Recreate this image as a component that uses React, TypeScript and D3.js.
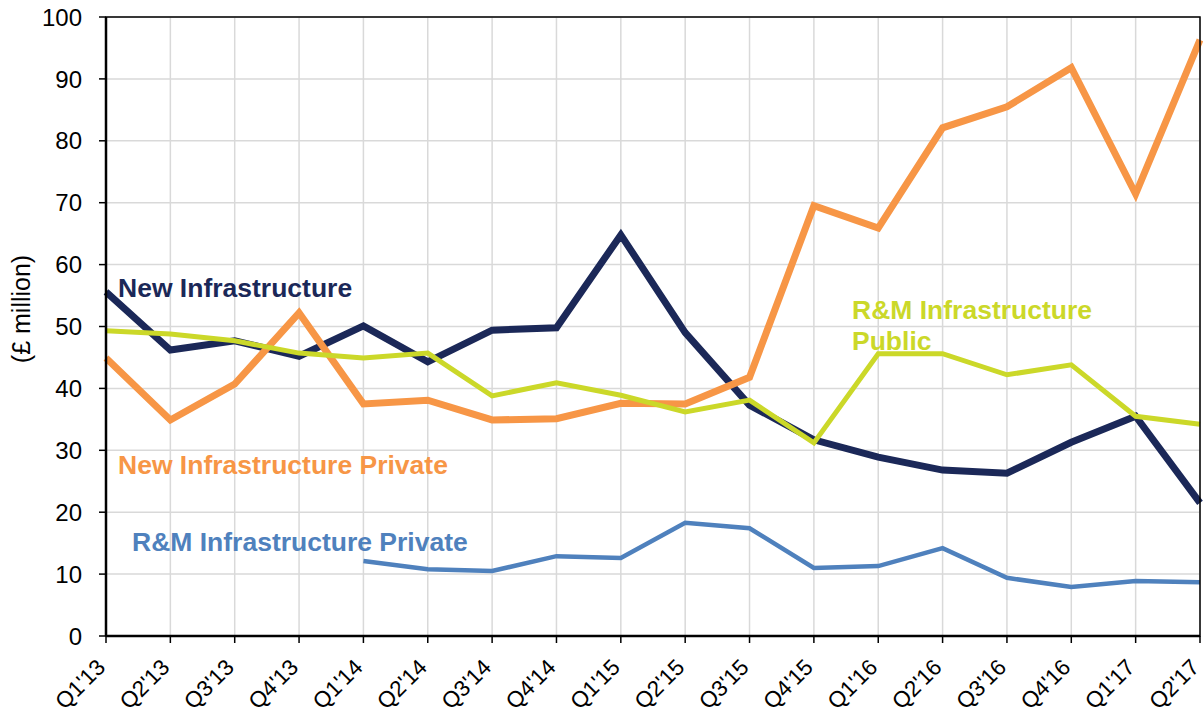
import React from "react";
import * as d3 from "d3";

const categories = ["Q1'13","Q2'13","Q3'13","Q4'13","Q1'14","Q2'14","Q3'14","Q4'14","Q1'15","Q2'15","Q3'15","Q4'15","Q1'16","Q2'16","Q3'16","Q4'16","Q1'17","Q2'17"];
const newInfra = [55.6,46.2,47.7,45.2,50.1,44.3,49.4,49.8,64.8,49.0,37.3,31.7,28.9,26.8,26.3,31.3,35.5,21.5];
const newInfraPrivate = [44.9,34.9,40.7,52.2,37.5,38.1,34.9,35.1,37.6,37.5,41.8,69.5,65.9,82.1,85.5,91.8,71.4,96.3];
const rmPublic = [49.3,48.8,47.7,45.7,44.9,45.7,38.8,40.9,38.9,36.2,38.1,31.2,45.6,45.6,42.2,43.8,35.5,34.2];
const rmPrivate: (number | null)[] = [null,null,null,null,12.1,10.8,10.5,12.9,12.6,18.3,17.4,11.0,11.3,14.2,9.4,7.9,8.9,8.7];
const yTicks = [0,10,20,30,40,50,60,70,80,90,100];

const L = 106, R = 1200, T = 17, B = 636;

export default function App() {
  const x = d3.scalePoint<string>().domain(categories).range([L, R]);
  const y = d3.scaleLinear().domain([0, 100]).range([B, T]);
  const line = d3.line<number | null>()
    .defined((d) => d !== null)
    .x((_, i) => x(categories[i]) as number)
    .y((d) => y(d as number));
  const series = [
    { data: newInfra, color: "#1b2858", w: 7 },
    { data: newInfraPrivate, color: "#f79646", w: 7 },
    { data: rmPublic, color: "#cbd829", w: 5 },
    { data: rmPrivate, color: "#4f81bd", w: 4.5 },
  ];
  const font = "Liberation Sans, Arial, sans-serif";
  return (
    <svg width={1203} height={719} style={{ position: "absolute", left: 0, top: 0, background: "#fff" }} fontFamily={font}>
      {yTicks.map((t) => (
        <line key={"h" + t} x1={L} x2={R} y1={y(t)} y2={y(t)} stroke="#d9d9d9" strokeWidth={1.5} />
      ))}
      {categories.map((c) => (
        <line key={"v" + c} x1={x(c)} x2={x(c)} y1={T} y2={B} stroke="#d9d9d9" strokeWidth={1.5} />
      ))}
      {series.map((s, i) => (
        <path key={i} d={line(s.data as (number | null)[]) || ""} fill="none" stroke={s.color} strokeWidth={s.w} strokeLinejoin="miter" strokeLinecap="butt" />
      ))}
      <rect x={L} y={T} width={R - L} height={B - T} fill="none" stroke="#000" strokeWidth={1.5} />
      <line x1={L} x2={L} y1={T} y2={B} stroke="#000" strokeWidth={2.5} />
      <line x1={L} x2={R} y1={B} y2={B} stroke="#000" strokeWidth={2.5} />
      {yTicks.map((t) => (
        <g key={"yt" + t}>
          <line x1={L - 7} x2={L} y1={y(t)} y2={y(t)} stroke="#000" strokeWidth={1.5} />
          <text x={82} y={y(t)} dy="0.36em" textAnchor="end" fontSize={24} fill="#000">{t}</text>
        </g>
      ))}
      {categories.map((c) => (
        <g key={"xt" + c}>
          <line x1={x(c)} x2={x(c)} y1={B} y2={B + 7} stroke="#000" strokeWidth={1.5} />
          <text transform={`translate(${(x(c) as number) - 5},${B + 27}) rotate(-45)`} textAnchor="end" dy="0.35em" fontSize={22.5} fill="#000">{c}</text>
        </g>
      ))}
      <text transform={`translate(21,309) rotate(-90)`} textAnchor="middle" dy="0.35em" fontSize={25} fill="#000">(£ million)</text>
      <text x={118} y={297} fontSize={26.5} fontWeight="bold" fill="#1b2858">New Infrastructure</text>
      <text x={118} y={474} fontSize={26.5} fontWeight="bold" fill="#f79646">New Infrastructure Private</text>
      <text x={132} y={551} fontSize={26.5} fontWeight="bold" fill="#4f81bd">R&amp;M Infrastructure Private</text>
      <text x={852} y={319} fontSize={26.5} fontWeight="bold" fill="#cbd829">R&amp;M Infrastructure</text>
      <text x={852} y={350} fontSize={26.5} fontWeight="bold" fill="#cbd829">Public</text>
    </svg>
  );
}
